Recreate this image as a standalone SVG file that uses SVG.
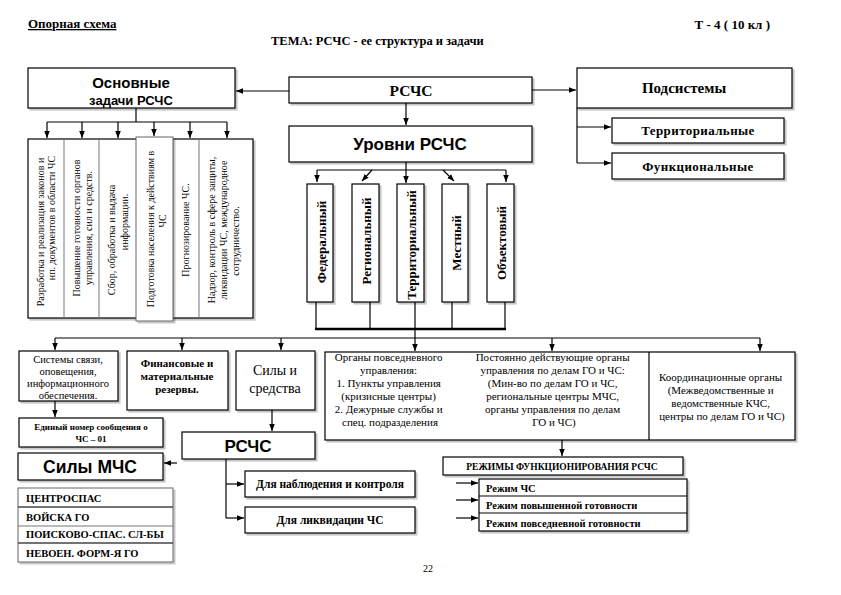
<svg xmlns="http://www.w3.org/2000/svg" width="841" height="595" viewBox="0 0 841 595">
<defs>
<marker id="ah" viewBox="0 0 10 10" refX="10" refY="5" markerUnits="userSpaceOnUse" markerWidth="7" markerHeight="7" orient="auto">
<path d="M0,1 L10,5 L0,9 z" fill="#000"/>
</marker>
<filter id="sh" x="-10%" y="-10%" width="125%" height="140%">
<feDropShadow dx="2" dy="2" stdDeviation="0.6" flood-color="#000" flood-opacity="0.22"/>
</filter>
</defs>
<style>
.box{fill:#fff;stroke:#000;stroke-width:1.2;filter:url(#sh)}
.gbox{fill:#fff;stroke:#666;stroke-width:1;filter:url(#sh)}
.dv{stroke:#777;stroke-width:1;fill:none}
.sep{stroke:#444;stroke-width:1.6;fill:none}
.ln{stroke:#000;stroke-width:1.2;fill:none}
.arr{stroke:#000;stroke-width:1.2;fill:none;marker-end:url(#ah)}
.thick{stroke:#000;stroke-width:2.6;fill:none}
.s{font-family:"Liberation Serif","DejaVu Serif",serif;fill:#000}
.sb{font-family:"Liberation Serif","DejaVu Serif",serif;font-weight:bold;fill:#000}
.a{font-family:"Liberation Sans",Arial,sans-serif;font-weight:bold;fill:#000}
.m{text-anchor:middle}
</style>
<rect width="841" height="595" fill="#fff"/>

<g id="header">
<text x="28" y="28" class="sb" font-size="13" text-decoration="underline">Опорная схема</text>
<text x="770" y="29" class="sb" font-size="13" text-anchor="end">Т - 4 ( 10 кл )</text>
<text x="271" y="45" class="sb" font-size="12.5">ТЕМА: РСЧС - ее структура и задачи</text>
</g>

<g id="node-osnovnye">
<rect class="box" x="28" y="68" width="207" height="40"/>
<text x="131" y="88" class="a m" font-size="15">Основные</text>
<text x="131" y="105" class="a m" font-size="13">задачи РСЧС</text>
</g>

<g id="node-rschs">
<rect class="box" x="289" y="77" width="243" height="26"/>
<text x="411" y="96" class="sb m" font-size="15.5">РСЧС</text>
</g>

<g id="node-podsistemy">
<rect class="box" x="577" y="68" width="215" height="40"/>
<text x="684" y="93" class="sb m" font-size="15">Подсистемы</text>
</g>

<g id="node-territorialnye">
<rect class="box" x="612" y="118" width="172" height="25"/>
<text x="698" y="135" class="sb m" font-size="13" letter-spacing="0.4">Территориальные</text>
</g>

<g id="node-funkcionalnye">
<rect class="box" x="612" y="153" width="172" height="26"/>
<text x="698" y="171" class="sb m" font-size="13" letter-spacing="0.4">Функциональные</text>
</g>

<g id="node-urovni">
<rect class="box" x="289" y="126" width="243" height="36"/>
<text x="410" y="150" class="a m" font-size="17">Уровни РСЧС</text>
</g>

<g id="node-federalny">
<rect class="box" x="307" y="184" width="26" height="118"/>
<text transform="translate(326,242) rotate(-90)" class="sb m" font-size="13">Федеральный</text>
</g>
<g id="node-regionalny">
<rect class="box" x="352" y="184" width="27" height="118"/>
<text transform="translate(371,241) rotate(-90)" class="sb m" font-size="13">Региональный</text>
</g>
<g id="node-territorialny">
<rect class="box" x="397" y="184" width="27" height="118"/>
<text transform="translate(416,245) rotate(-90)" class="sb m" font-size="13">Территориальный</text>
</g>
<g id="node-mestny">
<rect class="box" x="442" y="184" width="26" height="118"/>
<text transform="translate(461,243) rotate(-90)" class="sb m" font-size="13">Местный</text>
</g>
<g id="node-obektovy">
<rect class="box" x="487" y="184" width="27" height="118"/>
<text transform="translate(506,243) rotate(-90)" class="sb m" font-size="13">Объектовый</text>
</g>

<g id="node-zadachi">
<rect class="box" x="28" y="139" width="225" height="179"/>
<line class="dv" x1="64" y1="139" x2="64" y2="318"/>
<line class="dv" x1="99" y1="139" x2="99" y2="318"/>
<line class="dv" x1="173" y1="139" x2="173" y2="318"/>
<line class="dv" x1="199" y1="139" x2="199" y2="318"/>
<rect class="gbox" x="136" y="137" width="37" height="184"/>
<text transform="translate(44,232) rotate(-90)" class="s m" font-size="10">Разработка и реализация законов и</text>
<text transform="translate(55,218) rotate(-90)" class="s m" font-size="10">нп. документов в области ЧС</text>
<text transform="translate(80,228) rotate(-90)" class="s m" font-size="10">Повышение готовности органов</text>
<text transform="translate(92,228) rotate(-90)" class="s m" font-size="10">управления, сил и средств.</text>
<text transform="translate(115,240) rotate(-90)" class="s m" font-size="10">Сбор, обработка и выдача</text>
<text transform="translate(128,222) rotate(-90)" class="s m" font-size="10">информации.</text>
<text transform="translate(154,229) rotate(-90)" class="s m" font-size="10">Подготовка населения к действиям в</text>
<text transform="translate(166,221) rotate(-90)" class="s m" font-size="10">ЧС</text>
<text transform="translate(189,230) rotate(-90)" class="s m" font-size="10">Прогнозирование ЧС.</text>
<text transform="translate(215,230) rotate(-90)" class="s m" font-size="10">Надзор, контроль в сфере защиты,</text>
<text transform="translate(227,230) rotate(-90)" class="s m" font-size="10">ликвидации ЧС, международное</text>
<text transform="translate(239,241) rotate(-90)" class="s m" font-size="10">сотрудничество.</text>
</g>

<g id="node-sistemy-svyazi">
<rect class="box" x="19" y="351" width="99" height="50"/>
<text x="68" y="363" class="s m" font-size="10.5">Системы связи,</text>
<text x="68" y="375" class="s m" font-size="10.5">оповещения,</text>
<text x="68" y="387" class="s m" font-size="10.5">информационного</text>
<text x="68" y="399" class="s m" font-size="10.5">обеспечения.</text>
</g>

<g id="node-finansovye">
<rect class="box" x="127" y="351" width="101" height="59"/>
<text x="177" y="367" class="sb m" font-size="11">Финансовые и</text>
<text x="177" y="380" class="sb m" font-size="11">материальные</text>
<text x="177" y="393" class="sb m" font-size="11">резервы.</text>
</g>

<g id="node-sily-sredstva">
<rect class="box" x="236" y="351" width="79" height="59"/>
<text x="275" y="375" class="s m" font-size="14">Силы и</text>
<text x="275" y="393" class="s m" font-size="14">средства</text>
</g>

<g id="node-organy">
<rect class="box" x="325" y="352" width="470" height="88"/>
<line class="ln" x1="649" y1="352" x2="649" y2="440"/>
<text class="s m" font-size="11">
<tspan x="390" y="361">Органы повседневного</tspan>
<tspan x="390" y="374">управления:</tspan>
<tspan x="390" y="387">1. Пункты управления</tspan>
<tspan x="390" y="400">(кризисные центры)</tspan>
<tspan x="390" y="413">2. Дежурные службы и</tspan>
<tspan x="390" y="426">спец. подразделения</tspan>
</text>
<text class="s m" font-size="11">
<tspan x="554" y="361">Постоянно действующие органы</tspan>
<tspan x="554" y="374">управления по делам ГО и ЧС:</tspan>
<tspan x="554" y="387">(Мин-во по делам ГО и ЧС,</tspan>
<tspan x="554" y="400">региональные центры МЧС,</tspan>
<tspan x="554" y="413">органы управления по делам</tspan>
<tspan x="554" y="426">ГО и ЧС)</tspan>
</text>
<text class="s m" font-size="11">
<tspan x="722" y="381">Координационные органы</tspan>
<tspan x="722" y="394">(Межведомственные и</tspan>
<tspan x="722" y="407">ведомственные КЧС,</tspan>
<tspan x="722" y="420">центры по делам ГО и ЧС)</tspan>
</text>
</g>

<g id="node-edinyi-nomer">
<rect class="box" x="19" y="418" width="144" height="29"/>
<text x="91" y="430" class="sb m" font-size="9">Единый номер сообщения о</text>
<text x="91" y="442" class="sb m" font-size="9">ЧС – 01</text>
</g>

<g id="node-sily-mchs">
<rect class="box" x="18" y="453" width="145" height="27"/>
<text x="90" y="473" class="a m" font-size="17.5">Силы МЧС</text>
</g>

<g id="node-sily-list">
<rect class="gbox" x="18" y="488" width="155" height="74"/>
<line class="sep" x1="18" y1="507" x2="173" y2="507"/>
<line class="dv" x1="18" y1="526" x2="173" y2="526"/>
<line class="sep" x1="18" y1="543" x2="173" y2="543"/>
<text x="26" y="502" class="sb" font-size="10.5">ЦЕНТРОСПАС</text>
<text x="26" y="521" class="sb" font-size="10.5">ВОЙСКА ГО</text>
<text x="26" y="538" class="sb" font-size="10.5">ПОИСКОВО-СПАС. СЛ-БЫ</text>
<text x="26" y="557" class="sb" font-size="10.5">НЕВОЕН. ФОРМ-Я  ГО</text>
</g>

<g id="node-rschs-small">
<rect class="box" x="182" y="432" width="133" height="27"/>
<text x="248" y="452" class="a m" font-size="17">РСЧС</text>
</g>

<g id="node-nablyudenie">
<rect class="box" x="245" y="471" width="170" height="26"/>
<text x="330" y="488" class="sb m" font-size="11.5">Для наблюдения и контроля</text>
</g>

<g id="node-likvidaciya">
<rect class="box" x="245" y="507" width="170" height="26"/>
<text x="330" y="524" class="sb m" font-size="11.5">Для ликвидации ЧС</text>
</g>

<g id="node-rezhimy">
<rect class="box" x="443" y="457" width="240" height="18"/>
<text x="562" y="470" class="sb m" font-size="9.5">РЕЖИМЫ ФУНКЦИОНИРОВАНИЯ  РСЧС</text>
</g>

<g id="node-rezhim-list">
<rect class="box" x="479" y="479" width="208" height="52"/>
<line class="ln" x1="479" y1="496" x2="687" y2="496"/>
<line class="ln" x1="479" y1="513" x2="687" y2="513"/>
<text x="486" y="492" class="sb" font-size="10.5">Режим ЧС</text>
<text x="486" y="509" class="sb" font-size="10.5">Режим повышенной готовности</text>
<text x="486" y="527" class="sb" font-size="10.5">Режим повседневной готовности</text>
</g>

<g id="page-number">
<text x="428" y="572" class="s m" font-size="10">22</text>
</g>

<g id="connectors">
<line class="arr" x1="289" y1="91" x2="236" y2="91"/>
<line class="arr" x1="532" y1="90" x2="576" y2="90"/>
<line class="arr" x1="406" y1="103" x2="406" y2="125"/>
<polyline class="ln" points="577,108 577,163"/>
<line class="arr" x1="577" y1="127" x2="611" y2="127"/>
<line class="arr" x1="577" y1="163" x2="611" y2="163"/>

<line class="ln" x1="136" y1="108" x2="136" y2="122"/>
<line class="ln" x1="47" y1="122" x2="227" y2="122"/>
<line class="arr" x1="47" y1="122" x2="47" y2="138"/>
<line class="arr" x1="82" y1="122" x2="82" y2="138"/>
<line class="arr" x1="118" y1="122" x2="118" y2="138"/>
<line class="arr" x1="154" y1="122" x2="154" y2="136"/>
<line class="arr" x1="190" y1="122" x2="190" y2="138"/>
<line class="arr" x1="227" y1="122" x2="227" y2="138"/>

<line class="arr" x1="406" y1="162" x2="406" y2="183"/>
<line class="ln" x1="317" y1="170" x2="506" y2="170"/>
<line class="arr" x1="317" y1="170" x2="317" y2="182"/>
<line class="arr" x1="372" y1="170" x2="362" y2="181"/>
<line class="arr" x1="443" y1="170" x2="454" y2="181"/>
<line class="arr" x1="506" y1="170" x2="506" y2="182"/>

<line class="ln" x1="316" y1="302" x2="316" y2="329"/>
<line class="ln" x1="370" y1="302" x2="370" y2="329"/>
<line class="ln" x1="415" y1="302" x2="415" y2="329"/>
<line class="ln" x1="452" y1="302" x2="452" y2="329"/>
<line class="ln" x1="505" y1="302" x2="505" y2="329"/>
<line class="thick" x1="315" y1="329" x2="506" y2="329"/>
<line class="ln" x1="415" y1="329" x2="415" y2="338"/>

<line class="ln" x1="55" y1="338" x2="760" y2="338"/>
<line class="arr" x1="55" y1="338" x2="55" y2="350"/>
<line class="arr" x1="182" y1="338" x2="182" y2="350"/>
<line class="arr" x1="281" y1="338" x2="281" y2="350"/>
<line class="arr" x1="415" y1="338" x2="415" y2="351"/>
<line class="arr" x1="552" y1="338" x2="552" y2="351"/>
<line class="arr" x1="760" y1="338" x2="760" y2="351"/>

<line class="arr" x1="55" y1="401" x2="55" y2="417"/>
<line class="arr" x1="272" y1="410" x2="272" y2="431"/>
<line class="arr" x1="177" y1="463" x2="164" y2="463"/>
<line class="ln" x1="226" y1="459" x2="226" y2="518"/>
<line class="arr" x1="226" y1="484" x2="244" y2="484"/>
<line class="arr" x1="226" y1="518" x2="244" y2="518"/>

<line class="arr" x1="562" y1="440" x2="562" y2="456"/>
<line class="arr" x1="456" y1="483" x2="478" y2="483"/>
<line class="arr" x1="456" y1="500" x2="478" y2="500"/>
<line class="arr" x1="456" y1="518" x2="478" y2="518"/>
</g>
</svg>
